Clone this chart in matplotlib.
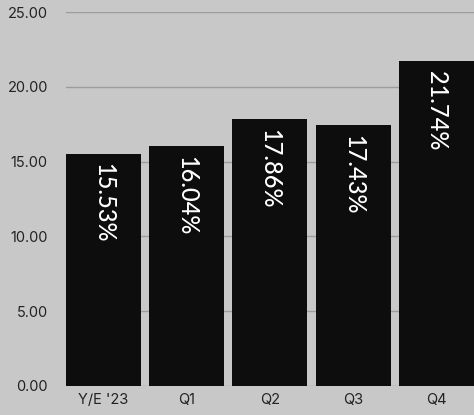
import matplotlib.pyplot as plt

categories = ["Y/E '23", "Q1", "Q2", "Q3", "Q4"]
values = [15.53, 16.04, 17.86, 17.43, 21.74]
labels = ["15.53%", "16.04%", "17.86%", "17.43%", "21.74%"]
yticks = [0, 5, 10, 15, 20, 25]

bg = '#c8c8c8'
fig = plt.figure(figsize=(4.74, 4.15), dpi=100, facecolor=bg)
ax = fig.add_axes([0.139, 0.07, 0.861, 0.901], facecolor=bg)

x = range(len(categories))
bars = ax.bar(x, values, width=0.9, color='#0d0d0d', zorder=3)
for b, lab in zip(bars, labels):
    ax.text(b.get_x() + b.get_width() / 2, b.get_height() - 0.65, lab,
            rotation=270, ha='center', va='top', color='white',
            fontsize=17, family='Lato', fontweight='medium', zorder=4)

ax.set_xlim(-0.45, len(categories) - 0.55)
ax.set_ylim(0, 25)
ax.set_yticks(yticks)
ax.set_yticklabels([f'{v:.2f}' for v in yticks])
ax.set_xticks(list(x))
ax.set_xticklabels(categories)
ax.grid(axis='y', color='#9c9c9c', linewidth=1, zorder=0)
for s in ax.spines.values():
    s.set_visible(False)
ax.tick_params(length=0, labelsize=10.5, labelcolor='#222222')
for t in ax.get_xticklabels() + ax.get_yticklabels():
    t.set_family('Inter')
ax.tick_params(axis='y', pad=13)
ax.tick_params(axis='x', pad=5)

fig.savefig('out.png', dpi=100, facecolor=bg)
